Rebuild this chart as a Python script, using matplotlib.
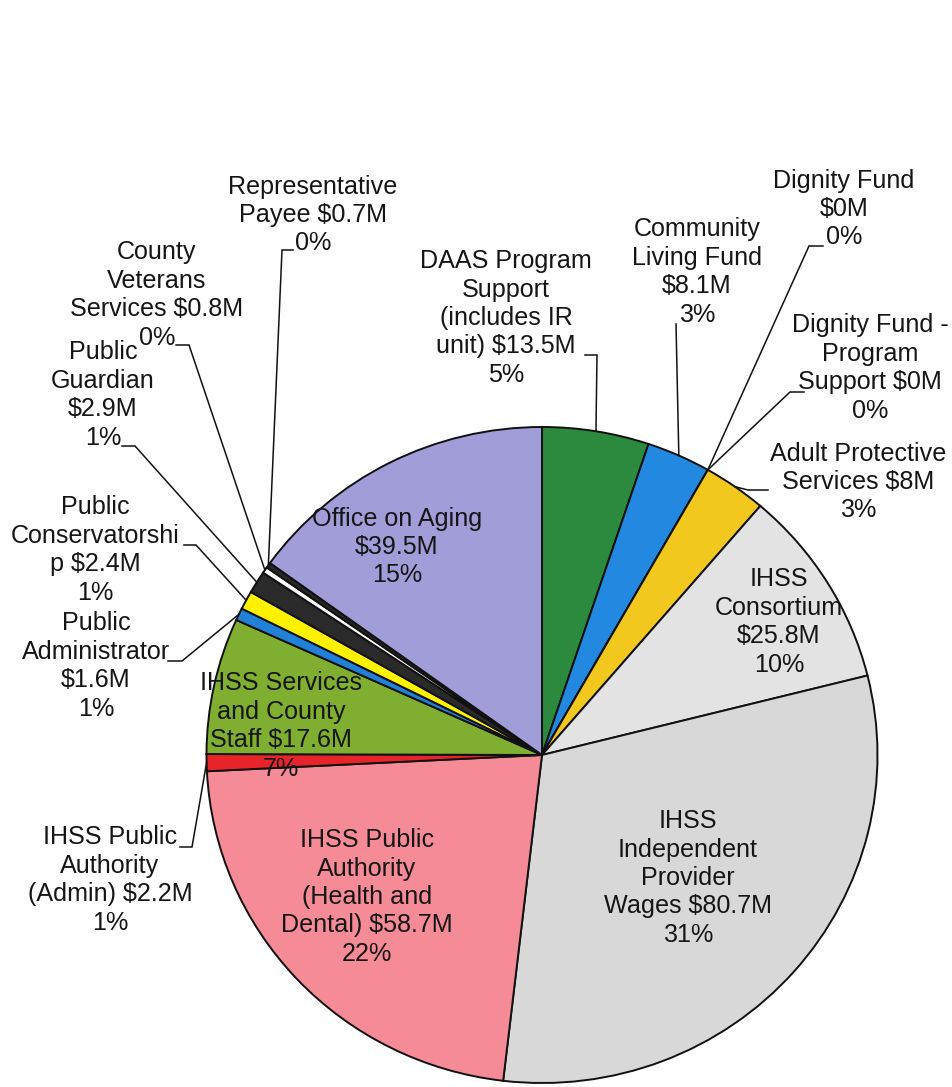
import matplotlib
matplotlib.use('Agg')
import matplotlib.pyplot as plt
import numpy as np

plt.rcParams['font.family'] = ['Liberation Sans', 'DejaVu Sans']

# ---------------- data ----------------
categories = [
    'DAAS Program Support (includes IR unit)', 'Community Living Fund', 'Dignity Fund',
    'Dignity Fund - Program Support', 'Adult Protective Services', 'IHSS Consortium',
    'IHSS Independent Provider Wages', 'IHSS Public Authority (Health and Dental)',
    'IHSS Public Authority (Admin)', 'IHSS Services and County Staff', 'Public Administrator',
    'Public Conservatorship', 'Public Guardian', 'County Veterans Services',
    'Representative Payee', 'Office on Aging',
]
values = [13.5, 8.1, 0.0, 0.0, 8.0, 25.8, 80.7, 58.7, 2.2, 17.6, 1.6, 2.4, 2.9, 0.8, 0.7, 39.5]
label_texts = [
    'DAAS Program\nSupport\n(includes IR\nunit) $13.5M\n5%',
    'Community\nLiving Fund\n$8.1M\n3%',
    'Dignity Fund\n$0M\n0%',
    'Dignity Fund -\nProgram\nSupport $0M\n0%',
    'Adult Protective\nServices $8M\n3%',
    'IHSS\nConsortium\n$25.8M\n10%',
    'IHSS\nIndependent\nProvider\nWages $80.7M\n31%',
    'IHSS Public\nAuthority\n(Health and\nDental) $58.7M\n22%',
    'IHSS Public\nAuthority\n(Admin) $2.2M\n1%',
    'IHSS Services\nand County\nStaff $17.6M\n7%',
    'Public\nAdministrator\n$1.6M\n1%',
    'Public\nConservatorshi\np $2.4M\n1%',
    'Public\nGuardian\n$2.9M\n1%',
    'County\nVeterans\nServices $0.8M\n0%',
    'Representative\nPayee $0.7M\n0%',
    'Office on Aging\n$39.5M\n15%',
]
colors = ['#2b8a3e', '#2389e0', '#2b5fb0', '#8a8a8a', '#f2c81f', '#e3e3e3', '#d8d8d8',
          '#f48b97', '#e8242b', '#80ae30', '#2180d8', '#fff200', '#2a2a2a', '#ffffff',
          '#262626', '#a19dd9']

# ---------------- layout (pixel coords, y down) ----------------
W, H = 953, 1087
CX, CY = 542, 755
RX, RY = 335.5, 328

label_pos = [
    (506, 318), (697, 272), (844, 209), (870, 368), (858, 482),
    (779, 622), (688, 878), (367, 897), (110, 880), (281, 726),
    (96, 666), (95, 550), (103, 395), (157, 295), (313, 215), (397, 547),
]
leaders = {
    0: ((585, 355), (597, 355)),
    1: ((676, 324), (676, 324)),
    2: ((823, 246), (809, 246)),
    3: ((804, 392), (790, 392)),
    4: ((768, 490), (748, 490)),
    8: ((180, 847), (192, 847)),
    10: ((168, 661), (182, 661)),
    11: ((184, 545), (196, 545)),
    12: ((122, 446), (135, 446)),
    13: ((176, 345), (189, 345)),
    14: ((293, 250), (282, 250)),
}

fig = plt.figure(figsize=(W / 100, H / 100), dpi=100)
fig.patch.set_facecolor('white')

ax_pie = fig.add_axes([0, 0, 1, 1])
wedges, _ = ax_pie.pie(values, colors=colors, startangle=90, counterclock=False,
                       radius=1.0, center=(0, 0),
                       wedgeprops=dict(edgecolor='#111111', linewidth=1.4))
ax_pie.set_aspect('auto')
ax_pie.set_xlim(-CX / RX, (W - CX) / RX)
ax_pie.set_ylim(-(H - CY) / RY, CY / RY)
ax_pie.axis('off')

ax_txt = fig.add_axes([0, 0, 1, 1])
ax_txt.set_xlim(0, W)
ax_txt.set_ylim(H, 0)
ax_txt.axis('off')
ax_txt.patch.set_alpha(0)

to_txt = ax_pie.transData + ax_txt.transData.inverted()

for i, w in enumerate(wedges):
    x, y = label_pos[i]
    ax_txt.text(x, y, label_texts[i], ha='center', va='center', multialignment='center',
                fontsize=18.1, color='#151515', linespacing=1.23, zorder=5)
    if i in leaders:
        (ax0, ay0), (bx, by) = leaders[i]
        mid = np.deg2rad((w.theta1 + w.theta2) / 2)
        ex, ey = to_txt.transform((np.cos(mid), np.sin(mid)))
        ax_txt.plot([ax0, bx, ex], [ay0, by, ey], color='#111111', lw=1.1,
                    solid_joinstyle='miter', zorder=4)

fig.savefig('out.png', dpi=100, facecolor='white')
